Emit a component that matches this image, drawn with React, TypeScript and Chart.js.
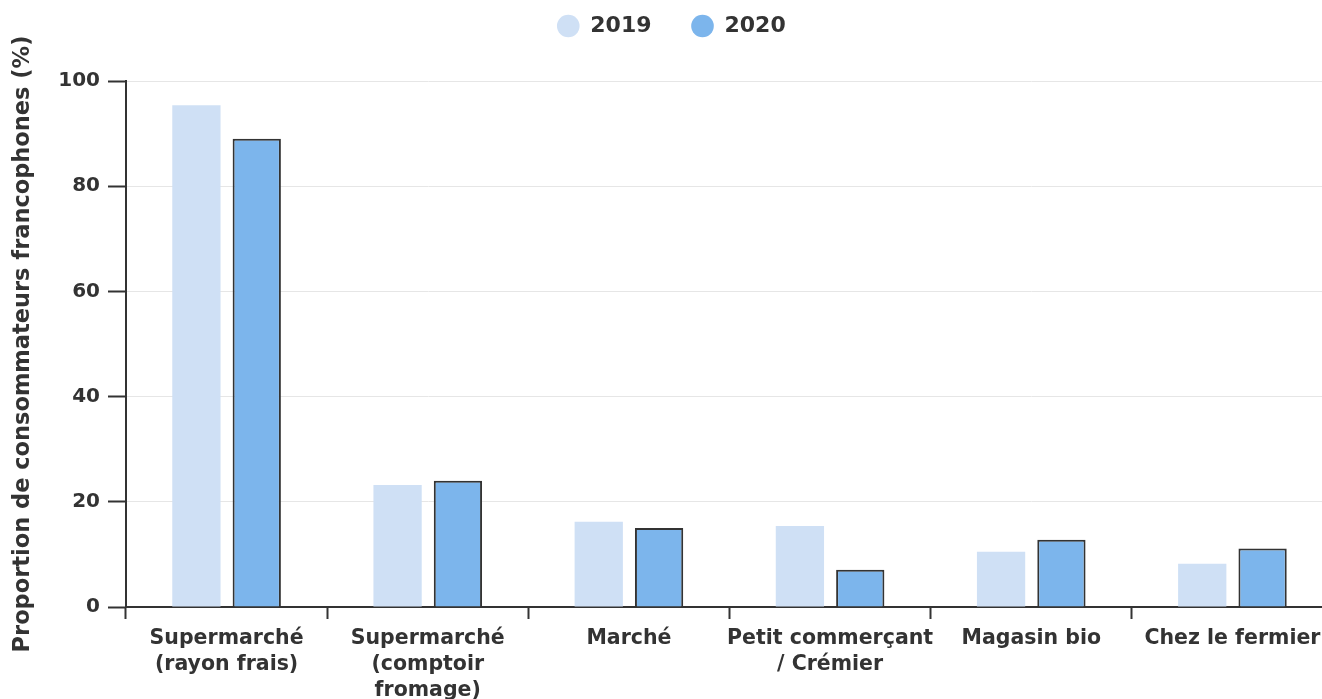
import React, { useEffect, useRef } from "react";
import { Chart, registerables } from "chart.js";

Chart.register(...registerables);

const categories: (string | string[])[] = [
  ["Supermarché", "(rayon frais)"],
  ["Supermarché", "(comptoir", "fromage)"],
  "Marché",
  ["Petit commerçant", "/ Crémier"],
  "Magasin bio",
  "Chez le fermier",
];
const values2019 = [95.4, 23.2, 16.2, 15.4, 10.5, 8.2];
const values2020 = [89.0, 24.0, 15.0, 7.1, 12.8, 11.1];
const seriesNames = ["2019", "2020"];
const yTitle = "Proportion de consommateurs francophones (%)";

const FONT = "'DejaVu Sans', sans-serif";
const DARK = "#333333";

const legendGap = {
  id: "legendGap",
  afterInit(chart: any) {
    const lg = chart.legend;
    if (!lg) return;
    const orig = lg.fit.bind(lg);
    lg.fit = function () {
      orig();
      this.height += 34;
    };
  },
};

export default function App() {
  const ref = useRef<HTMLCanvasElement | null>(null);
  useEffect(() => {
    if (!ref.current) return;
    const chart = new Chart(ref.current, {
      type: "bar",
      data: {
        labels: categories,
        datasets: [
          {
            label: seriesNames[0],
            data: values2019,
            backgroundColor: "#cfe0f5",
            borderWidth: 0,
          },
          {
            label: seriesNames[1],
            data: values2020,
            backgroundColor: "#7cb5ec",
            borderColor: "#333333",
            borderWidth: 2,
          },
        ],
      },
      plugins: [legendGap],
      options: {
        responsive: false,
        animation: false,
        categoryPercentage: 0.6,
        barPercentage: 0.8,
        layout: { padding: { left: 10, right: 7, top: -25, bottom: 0 } },
        plugins: {
          legend: {
            position: "top",
            labels: {
              usePointStyle: true,
              pointStyle: "circle",
              boxWidth: 22,
              boxHeight: 16,
              padding: 40,
              color: DARK,
              font: { family: FONT, size: 22, weight: "bold" },
              generateLabels: (c: any) => {
                const items = Chart.defaults.plugins.legend.labels.generateLabels(c);
                return items.map((it: any) => ({ ...it, lineWidth: 0, strokeStyle: "rgba(0,0,0,0)" }));
              },
            },
          },
          tooltip: { enabled: false },
        },
        scales: {
          x: {
            offset: true,
            grid: {
              display: true,
              drawOnChartArea: false,
              drawTicks: true,
              tickLength: 12,
              tickColor: DARK,
              tickWidth: 2,
              offset: true,
            },
            border: { display: true, color: DARK, width: 2 },
            ticks: {
              color: DARK,
              maxRotation: 0,
              autoSkip: false,
              padding: 7,
              font: { family: FONT, size: 20.5, weight: "bold", lineHeight: 1.27 },
            },
            afterFit: (s: any) => {
              s.height = 92;
            },
          },
          y: {
            min: 0,
            max: 100,
            ticks: {
              stepSize: 20,
              color: DARK,
              padding: 8,
              font: { family: FONT, size: 20, weight: "bold" },
            },
            grid: {
              color: "#e6e6e6",
              lineWidth: 1,
              drawTicks: true,
              tickLength: 18,
              tickColor: DARK,
              tickWidth: 2,
            },
            border: { display: true, color: DARK, width: 2 },
            title: {
              display: true,
              text: yTitle,
              color: DARK,
              padding: 0,
              font: { family: FONT, size: 22.5, weight: "bold" },
            },
            afterFit: (s: any) => {
              s.width = 116;
            },
          },
        },
      },
    });
    return () => chart.destroy();
  }, []);
  return (
    <div style={{ position: "fixed", inset: 0, overflow: "hidden", background: "#fff" }}>
      <div style={{ position: "absolute", left: 0, top: 0, width: 1340, height: 699 }}>
        <canvas ref={ref} width={1340} height={699} />
      </div>
    </div>
  );
}
